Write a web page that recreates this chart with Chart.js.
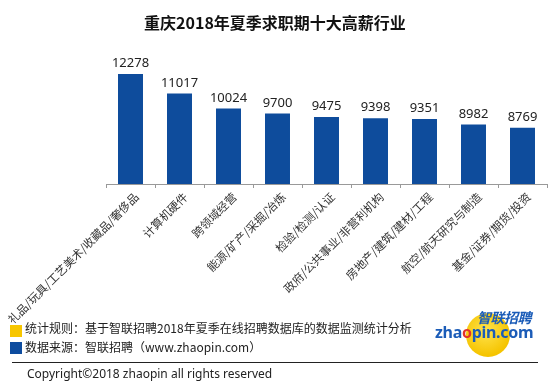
<!DOCTYPE html>
<html>
<head>
<meta charset="utf-8">
<script src="https://cdn.jsdelivr.net/npm/chart.js@4/dist/chart.umd.min.js"></script>
<style>
  body { margin: 0; background: #fff; }
  #wrap { position: relative; width: 550px; height: 390px; overflow: hidden; font-family: "Noto Sans CJK SC", sans-serif; color: #222; }
  #title { position: absolute; left: 0; top: 10px; width: 550px; text-align: center; font-size: 16px; font-weight: bold; color: #111; }
  .sq { position: absolute; left: 10px; width: 12px; height: 12px; }
  .note { position: absolute; left: 25px; font-size: 12px; line-height: 16px; color: #222; white-space: nowrap; }
  #rule { position: absolute; left: 12px; top: 362px; width: 526px; height: 0; border-top: 1.5px solid #222; }
  #copy { position: absolute; left: 27px; top: 365px; font-family: "Noto Sans", sans-serif; font-size: 12px; color: #222; }
  #logo-ball { position: absolute; left: 466px; top: 313px; width: 44px; height: 44px; border-radius: 50%; background: radial-gradient(circle at 45% 40%, #ffe34d, #f5c400 70%); }
  #logo-cn { position: absolute; left: 477px; top: 307px; font-size: 14px; font-weight: bold; font-style: italic; color: #1b5cb8; letter-spacing: -0.5px; }
  #logo-en { position: absolute; left: 435px; top: 321px; font-family: "Noto Sans", sans-serif; font-size: 16px; font-weight: bold; color: #1b5cb8; letter-spacing: -0.3px; }
  #logo-en span { color: #e2312a; }
  canvas { position: absolute; left: 0; top: 0; }
</style>
</head>
<body>
<div id="wrap">
  <canvas id="myChart" width="550" height="390"></canvas>
  <div id="title">重庆2018年夏季求职期十大高薪行业</div>
  <div class="sq" style="top:325px;background:#f7c600"></div>
  <div class="note" style="top:320px">统计规则：基于智联招聘2018年夏季在线招聘数据库的数据监测统计分析</div>
  <div class="sq" style="top:342px;background:#0d4c9f"></div>
  <div class="note" style="top:339px">数据来源：智联招聘（www.zhaopin.com）</div>
  <div id="logo-ball"></div>
  <div id="logo-cn">智联招聘</div>
  <div id="logo-en">zha<span>o</span>pin.com</div>
  <div id="rule"></div>
  <div id="copy">Copyright©2018 zhaopin all rights reserved</div>
</div>
<script>
var industries = ["礼品/玩具/工艺美术/收藏品/奢侈品", "计算机硬件", "跨领域经营", "能源/矿产/采掘/冶炼",
  "检验/检测/认证", "政府/公共事业/非营利机构", "房地产/建筑/建材/工程", "航空/航天研究与制造", "基金/证券/期货/投资"];
var salaries = [12278, 11017, 10024, 9700, 9475, 9398, 9351, 8982, 8769];
var barColor = "#0e4c9c";

// value above each bar
var valueLabels = {
  id: "valueLabels",
  afterDatasetsDraw: function(chart) {
    var ctx = chart.ctx;
    var meta = chart.getDatasetMeta(0);
    ctx.save();
    ctx.font = "13px 'Noto Sans', sans-serif";
    ctx.fillStyle = "#222";
    ctx.textAlign = "center";
    ctx.textBaseline = "bottom";
    meta.data.forEach(function(bar, i) {
      ctx.fillText(salaries[i], bar.x, bar.y - 4);
    });
    ctx.restore();
  }
};

new Chart("myChart", {
  type: "bar",
  data: {
    labels: industries,
    datasets: [{
      data: salaries,
      backgroundColor: barColor,
      barPercentage: 0.51,
      categoryPercentage: 1
    }]
  },
  options: {
    responsive: false,
    animation: false,
    layout: { padding: { left: 106, right: 3, top: 60, bottom: 0 } },
    plugins: { legend: { display: false }, title: { display: false }, tooltip: { enabled: false } },
    scales: {
      y: { display: false, min: 5100, max: 13200 },
      x: {
        afterFit: function(scale) {
          scale.height = 206;
          // let the long first label hang out to the left, like the original
          scale.paddingLeft = 0;
          scale.paddingRight = 0;
        },
        border: { display: true, color: "#999" },
        grid: { display: true, drawOnChartArea: false, drawTicks: true, tickLength: 4, color: "#999", offset: true },
        ticks: {
          minRotation: 45, maxRotation: 45, autoSkip: false, padding: 2, labelOffset: 6,
          color: "#333",
          font: { family: "'Noto Sans CJK SC', sans-serif", size: 11.5 }
        }
      }
    }
  },
  plugins: [valueLabels]
});
</script>
</body>
</html>
